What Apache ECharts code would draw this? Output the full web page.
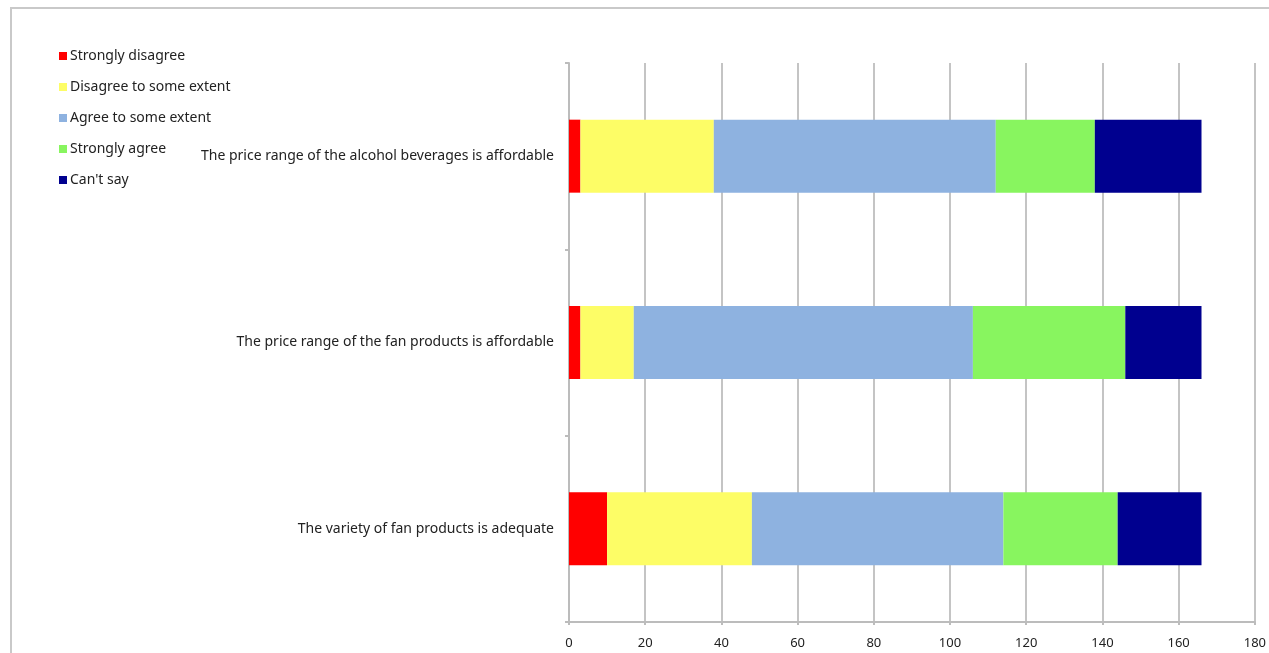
<!DOCTYPE html>
<html>
<head>
<meta charset="utf-8">
<title>Survey responses</title>
<script src="https://cdn.jsdelivr.net/npm/echarts@6/dist/echarts.min.js"></script>
<style>
  html, body { margin: 0; padding: 0; background: #ffffff; }
  #chart { width: 1269px; height: 653px; }
</style>
</head>
<body>
<div id="chart"></div>
<script>
// Statements, listed top to bottom
const statements = [
  'The price range of the alcohol beverages is affordable',
  'The price range of the fan products is affordable',
  'The variety of fan products is adequate'
];

// Number of respondents per answer, one value per statement
const stronglyDisagree = [3, 3, 10];
const disagreeSomewhat = [35, 14, 38];
const agreeSomewhat = [74, 89, 66];
const stronglyAgree = [26, 40, 30];
const cantSay = [28, 20, 22];

const answerNames = [
  'Strongly disagree',
  'Disagree to some extent',
  'Agree to some extent',
  'Strongly agree',
  "Can't say"
];
const answerColors = ['#ff0000', '#fdfd66', '#8eb2e0', '#88f55f', '#00008f'];
const answerValues = [stronglyDisagree, disagreeSomewhat, agreeSomewhat, stronglyAgree, cantSay];

const xTicks = { min: 0, max: 180, interval: 20 };

const font = "'Noto Sans', 'DejaVu Sans', sans-serif";

const chart = echarts.init(document.getElementById('chart'));

chart.setOption({
  animation: false,
  backgroundColor: '#ffffff',
  textStyle: { fontFamily: font },
  graphic: [{
    type: 'rect',
    shape: { x: 11, y: 8, width: 1280, height: 700 },
    style: { fill: 'none', stroke: '#c9c9c9', lineWidth: 2 },
    silent: true
  }],
  legend: {
    orient: 'vertical',
    left: 54,
    top: 44,
    itemWidth: 8,
    itemHeight: 8,
    itemGap: 17,
    icon: 'rect',
    data: answerNames,
    textStyle: { fontFamily: font, fontSize: 14, color: '#222222', padding: [0, 0, 0, -2] }
  },
  grid: {
    left: 569,
    right: 11,
    top: 63,
    bottom: 31,
    containLabel: false
  },
  xAxis: {
    type: 'value',
    min: xTicks.min,
    max: xTicks.max,
    interval: xTicks.interval,
    axisLine: { show: true, lineStyle: { color: '#bcbcbc', width: 2 } },
    axisTick: { show: true, length: 3, lineStyle: { color: '#bcbcbc', width: 2 } },
    axisLabel: { color: '#222222', fontSize: 13, fontFamily: font, margin: 15 },
    splitLine: { show: true, lineStyle: { color: '#c4c4c4', width: 2 } }
  },
  yAxis: {
    type: 'category',
    inverse: true,
    data: statements,
    axisLine: { show: true, lineStyle: { color: '#bcbcbc', width: 2 } },
    axisTick: { show: true, length: 4, lineStyle: { color: '#bcbcbc', width: 2 } },
    axisLabel: { color: '#222222', fontSize: 14, fontFamily: font, margin: 15 }
  },
  series: answerNames.map((name, i) => ({
    name: name,
    type: 'bar',
    stack: 'total',
    barWidth: 73,
    itemStyle: { color: answerColors[i] },
    data: answerValues[i]
  }))
});
</script>
</body>
</html>
